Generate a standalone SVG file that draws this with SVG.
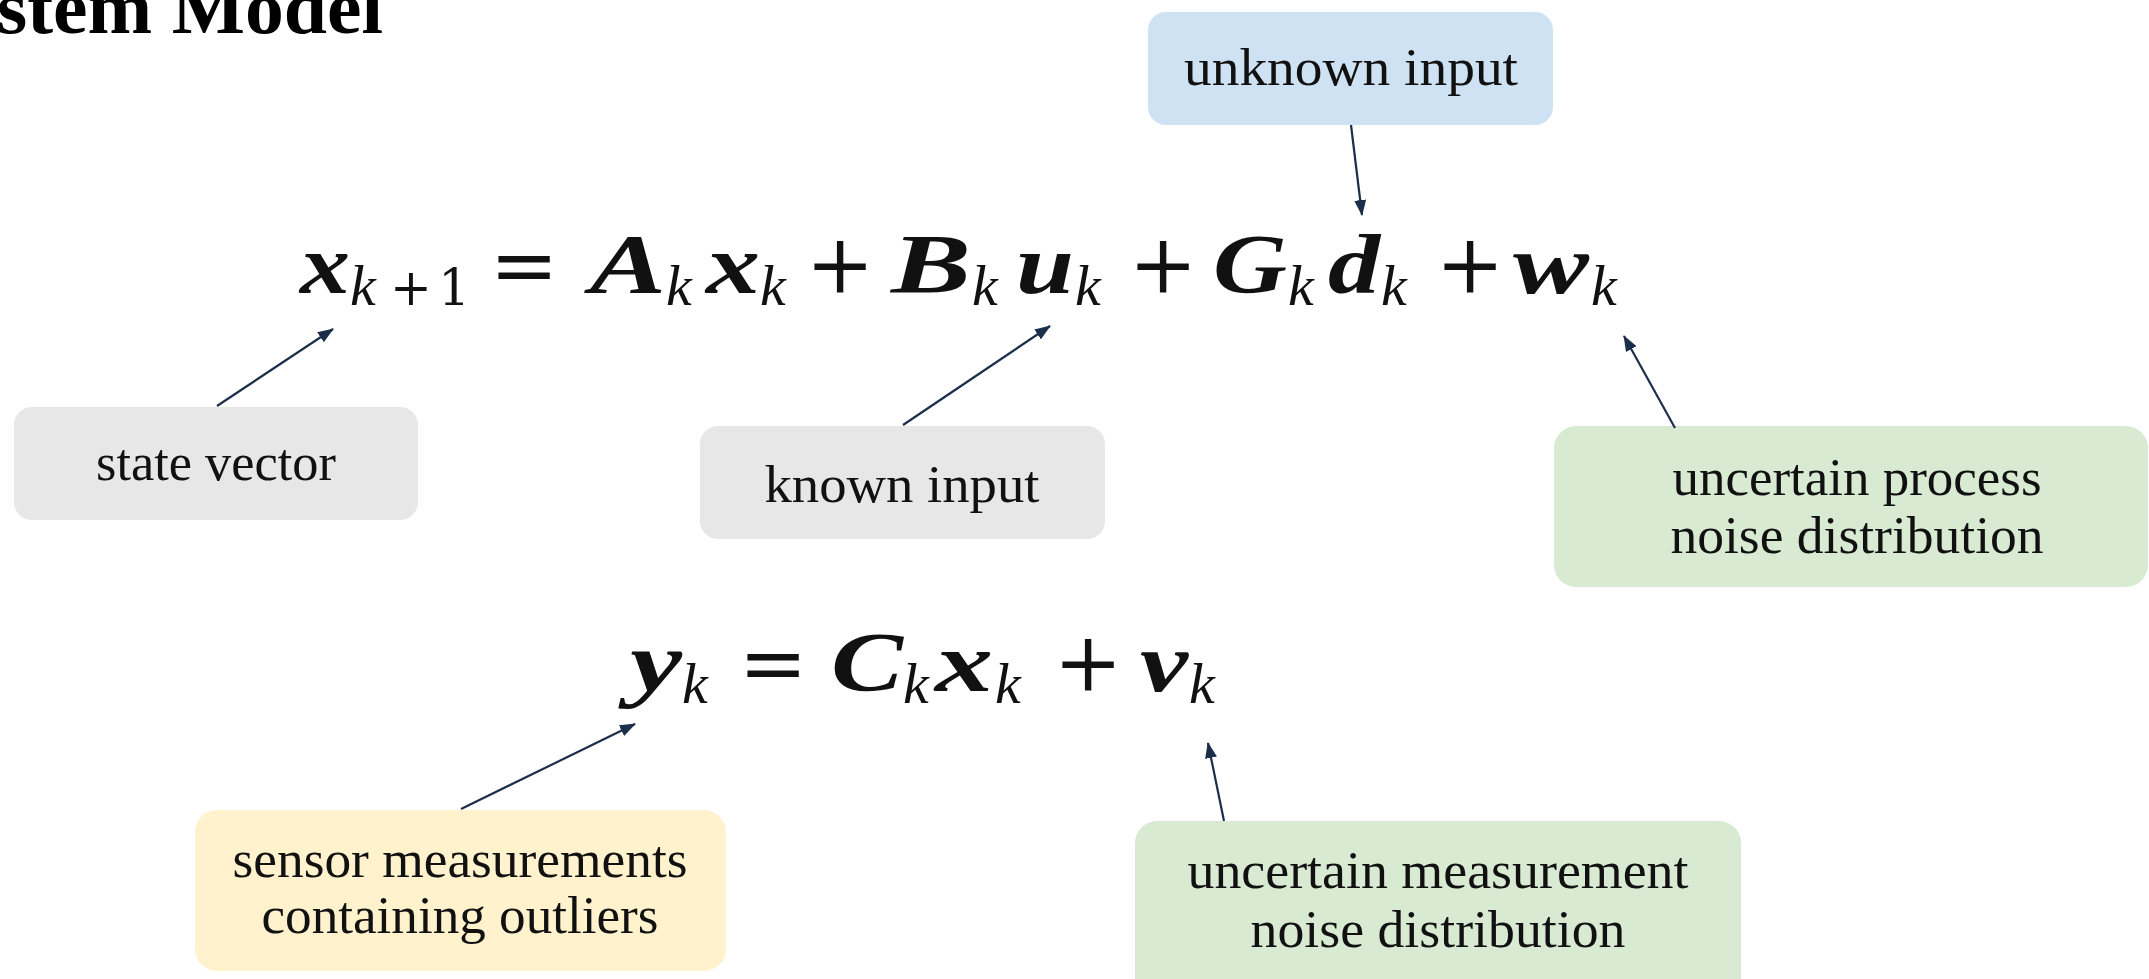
<svg xmlns="http://www.w3.org/2000/svg" width="2149" height="979" viewBox="0 0 2149 979">
<style>
.lbl{font-family:"Liberation Serif","Times New Roman",serif;font-size:53px;fill:#111;text-anchor:middle}
.mv{font-family:"Liberation Serif","Times New Roman",serif;font-size:84px;font-weight:bold;font-style:italic;fill:#111}
.sub{font-family:"Liberation Serif","Times New Roman",serif;font-size:58px;font-style:italic;fill:#111}
.subr{font-family:"DejaVu Serif",serif;font-size:50px;fill:#111}
.op{font-family:"DejaVu Serif",serif;font-size:82px;fill:#111;text-anchor:middle}
.arrow{stroke:#1B2E4A;stroke-width:2.2;fill:none;marker-end:url(#ah)}
</style>
<defs>
<marker id="ah" markerUnits="userSpaceOnUse" markerWidth="16" markerHeight="12" viewBox="0 0 16 12" refX="15" refY="6" orient="auto">
<path d="M0,0 L16,6 L0,12 Z" fill="#1B2E4A"/>
</marker>
</defs>
<rect width="2149" height="979" fill="#FFFFFF"/>
<text id="title" x="-3" y="33" font-family="Liberation Serif,serif" font-size="76" font-weight="bold" fill="#000" textLength="386" lengthAdjust="spacingAndGlyphs">stem Model</text>

<g id="eq1">
<text class="mv" x="300" y="293" textLength="50" lengthAdjust="spacingAndGlyphs">x</text>
<text class="sub" x="350" y="305">k</text>
<text class="subr" x="390" y="305" textLength="80">+1</text>
<text class="op" x="524" y="293">=</text>
<text class="mv" x="590" y="293" textLength="76" lengthAdjust="spacingAndGlyphs">A</text>
<text class="sub" x="666" y="305">k</text>
<text class="mv" x="706" y="293" textLength="54" lengthAdjust="spacingAndGlyphs">x</text>
<text class="sub" x="760" y="305">k</text>
<text class="op" x="840" y="293">+</text>
<text class="mv" x="891" y="293" textLength="80" lengthAdjust="spacingAndGlyphs">B</text>
<text class="sub" x="972" y="305">k</text>
<text class="mv" x="1016" y="293" textLength="58" lengthAdjust="spacingAndGlyphs">u</text>
<text class="sub" x="1075" y="305">k</text>
<text class="op" x="1163" y="293">+</text>
<text class="mv" x="1213" y="293" textLength="74" lengthAdjust="spacingAndGlyphs">G</text>
<text class="sub" x="1288" y="305">k</text>
<text class="mv" x="1328" y="293" textLength="52" lengthAdjust="spacingAndGlyphs">d</text>
<text class="sub" x="1381" y="305">k</text>
<text class="op" x="1470" y="293">+</text>
<text class="mv" x="1513" y="293" textLength="76" lengthAdjust="spacingAndGlyphs">w</text>
<text class="sub" x="1591" y="305">k</text>
</g>

<g id="eq2">
<text class="mv" x="630" y="691" textLength="52" lengthAdjust="spacingAndGlyphs">y</text>
<text class="sub" x="682" y="703">k</text>
<text class="op" x="773" y="691">=</text>
<text class="mv" x="831" y="691" textLength="72" lengthAdjust="spacingAndGlyphs">C</text>
<text class="sub" x="903" y="703">k</text>
<text class="mv" x="935" y="691" textLength="58" lengthAdjust="spacingAndGlyphs">x</text>
<text class="sub" x="995" y="703">k</text>
<text class="op" x="1088" y="691">+</text>
<text class="mv" x="1140" y="691" textLength="48" lengthAdjust="spacingAndGlyphs">v</text>
<text class="sub" x="1189" y="703">k</text>
</g>

<g id="unknown-input">
<rect x="1148" y="12" width="405" height="113" rx="18" fill="#CFE2F3"/>
<text class="lbl" x="1351" y="85" textLength="334" lengthAdjust="spacingAndGlyphs">unknown input</text>
</g>
<g id="state-vector">
<rect x="14" y="407" width="404" height="113" rx="18" fill="#E7E7E7"/>
<text class="lbl" x="216" y="480" textLength="240" lengthAdjust="spacingAndGlyphs">state vector</text>
</g>
<g id="known-input">
<rect x="700" y="426" width="405" height="113" rx="18" fill="#E7E7E7"/>
<text class="lbl" x="902" y="502" textLength="275" lengthAdjust="spacingAndGlyphs">known input</text>
</g>
<g id="process-noise">
<rect x="1554" y="426" width="594" height="161" rx="22" fill="#D9EAD3"/>
<text class="lbl" x="1857" y="495" textLength="369" lengthAdjust="spacingAndGlyphs">uncertain process</text>
<text class="lbl" x="1857" y="553" textLength="373" lengthAdjust="spacingAndGlyphs">noise distribution</text>
</g>
<g id="sensor-measurements">
<rect x="195" y="810" width="531" height="161" rx="22" fill="#FFF2CC"/>
<text class="lbl" x="460" y="877" textLength="455" lengthAdjust="spacingAndGlyphs">sensor measurements</text>
<text class="lbl" x="460" y="933" textLength="397" lengthAdjust="spacingAndGlyphs">containing outliers</text>
</g>
<g id="measurement-noise">
<rect x="1135" y="821" width="606" height="190" rx="22" fill="#D9EAD3"/>
<text class="lbl" x="1438" y="888" textLength="501" lengthAdjust="spacingAndGlyphs">uncertain measurement</text>
<text class="lbl" x="1438" y="947" textLength="375" lengthAdjust="spacingAndGlyphs">noise distribution</text>
</g>

<g id="connectors">
<line class="arrow" x1="1351" y1="125" x2="1362" y2="215"/>
<line class="arrow" x1="217" y1="406" x2="333" y2="329"/>
<line class="arrow" x1="903" y1="425" x2="1050" y2="326"/>
<line class="arrow" x1="1675" y1="428" x2="1624" y2="336"/>
<line class="arrow" x1="461" y1="809" x2="635" y2="724"/>
<line class="arrow" x1="1224" y1="821" x2="1208" y2="743"/>
</g>
</svg>
